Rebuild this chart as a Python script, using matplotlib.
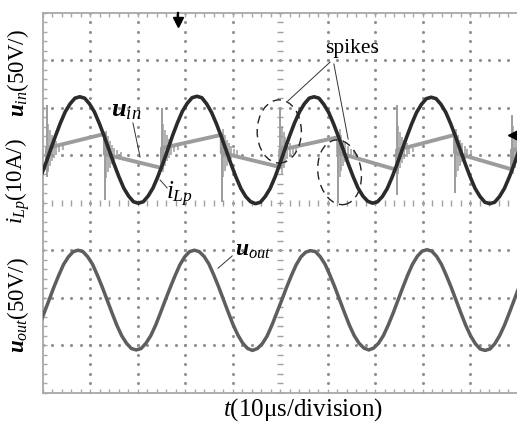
import numpy as np
import matplotlib
matplotlib.use("Agg")
from matplotlib import pyplot as plt
from matplotlib.patches import Ellipse

plt.rcParams['font.family'] = ['Liberation Serif', 'DejaVu Serif']
plt.rcParams['mathtext.fontset'] = 'custom'
plt.rcParams['mathtext.rm'] = 'Liberation Serif'
plt.rcParams['mathtext.it'] = 'Liberation Serif:italic'
plt.rcParams['mathtext.bf'] = 'Liberation Serif:bold'
plt.rcParams['mathtext.bfit'] = 'Liberation Serif:italic:bold'

# everything in screen divisions: 10 across, 8 high, centre line = 0

# u_in, read every 1/24 of its period from the left edge
uin_t0, uin_dt = -0.144, 0.10275
u_in = [0.31, 0.55, 0.82,
        1.11, 1.40, 1.67, 1.91, 2.08, 2.20, 2.23, 2.20, 2.08, 1.91, 1.67, 1.40,
        1.11, 0.82, 0.55, 0.31, 0.14, 0.02, -0.01, 0.02, 0.14, 0.31, 0.55, 0.82,
        1.11, 1.41, 1.68, 1.92, 2.09, 2.21, 2.24, 2.21, 2.08, 1.90, 1.66, 1.39,
        1.10, 0.81, 0.54, 0.30, 0.13, 0.02, -0.02, 0.01, 0.13, 0.30, 0.54, 0.82,
        1.12, 1.41, 1.68, 1.91, 2.08, 2.20, 2.23, 2.20, 2.07, 1.90, 1.66, 1.39,
        1.11, 0.82, 0.55, 0.31, 0.14, 0.03, -0.01, 0.02, 0.13, 0.30, 0.54, 0.81,
        1.10, 1.39, 1.66, 1.90, 2.07, 2.19, 2.22, 2.19, 2.07, 1.90, 1.66, 1.39,
        1.10, 0.81, 0.54, 0.30, 0.13, 0.01, -0.02, 0.01, 0.13, 0.30, 0.54, 0.81,
        1.11]

# u_out, same way
uout_t0, uout_dt = -0.071, 0.102
u_out = [-2.58, -2.32,
         -2.05, -1.78, -1.53, -1.30, -1.14, -1.03, -1.00, -1.03, -1.14, -1.30, -1.53, -1.78,
         -2.05, -2.32, -2.58, -2.80, -2.96, -3.07, -3.10, -3.07, -2.96, -2.80, -2.58, -2.32,
         -2.05, -1.79, -1.54, -1.31, -1.14, -1.03, -1.00, -1.03, -1.13, -1.29, -1.52, -1.77,
         -2.04, -2.31, -2.57, -2.79, -2.96, -3.07, -3.11, -3.07, -2.97, -2.81, -2.58, -2.32,
         -2.06, -1.79, -1.54, -1.31, -1.14, -1.04, -1.01, -1.03, -1.14, -1.30, -1.53, -1.78,
         -2.05, -2.32, -2.58, -2.80, -2.96, -3.06, -3.10, -3.06, -2.96, -2.80, -2.58, -2.33,
         -2.06, -1.79, -1.53, -1.30, -1.13, -1.02, -0.99, -1.02, -1.13, -1.30, -1.53, -1.78,
         -2.05, -2.32, -2.58, -2.80, -2.97, -3.08, -3.11, -3.08, -2.97, -2.80, -2.58, -2.32,
         -2.05, -1.78]

# i_Lp: switching spikes and the ramp between them
spike_t = [0.09, 1.31, 2.51, 3.77, 5.00, 6.22, 7.46, 8.68, 9.88]
spike_top = [2.05, 1.38, 1.99, 1.45, 2.01, 1.39, 2.06, 1.47, 1.85]
spike_bot = [0.55, 0.05, 0.75, 0.02, 0.75, 0.00, 0.16, 0.20, 0.64]
seg_start = [1.15, 1.02, 1.15, 1.05, 1.11, 1.05, 1.11, 1.05, 1.11]
seg_end = [1.45, 0.73, 1.43, 0.75, 1.38, 0.69, 1.43, 0.70, 1.14]
lead_in = [0.74, 0.72]
ring_dt = [0.03, 0.07, 0.11, 0.15, 0.20, 0.26, 0.33]
ring_amp = [0.50, 0.38, 0.28, 0.20, 0.14, 0.09, 0.05]

X_MAX = 9.985

fig = plt.figure(figsize=(5.17, 4.23), dpi=100)
ax = fig.add_axes([42.7 / 517, 30.3 / 423, (517 - 42.7) / 517, 380 / 423])
ax.set_xlim(0, X_MAX)
ax.set_ylim(-4, 4)

frame_col = '#a8a8a8'
for s in ['left', 'top', 'bottom']:
    ax.spines[s].set_color(frame_col)
    ax.spines[s].set_linewidth(1.3)
ax.spines['right'].set_visible(False)

ax.set_xticks(np.arange(0, 10, 1))
ax.set_xticks(np.arange(0, 10, 0.2), minor=True)
ax.set_yticks(np.arange(-4, 5, 1))
ax.set_yticks(np.arange(-4, 4.01, 0.2), minor=True)
ax.tick_params(which='both', direction='in', top=True, right=False,
               labelbottom=False, labelleft=False, color=frame_col, width=1)
ax.tick_params(which='major', length=3)
ax.tick_params(which='minor', length=3)

# dotted graticule
dots = np.arange(0, 10.01, 0.2)
for gx in [1, 2, 3, 4, 6, 7, 8, 9]:
    ax.plot(np.full(41, gx), np.arange(-4, 4.01, 0.2), ls='none', marker='.',
            ms=2.4, color='#909090', zorder=1)
for gy in [-3, -2, -1, 1, 2, 3]:
    ax.plot(dots, np.full(len(dots), gy), ls='none', marker='.',
            ms=2.4, color='#909090', zorder=1)
# centre axes with small ticks
ax.plot(dots, np.zeros(len(dots)), ls='none', marker='|', ms=5,
        mew=1, color='#a0a0a0', zorder=1)
ax.plot(np.full(41, 5.0), np.arange(-4, 4.01, 0.2), ls='none', marker='_',
        ms=4, mew=1, color='#a0a0a0', zorder=1)

# i_Lp trace
ilp_x = [0.0, spike_t[0]]
ilp_y = list(lead_in)
for j, t in enumerate(spike_t):
    t_next = spike_t[j + 1] if j + 1 < len(spike_t) else 10.1
    ilp_x += [t, t_next]
    ilp_y += [seg_start[j], seg_end[j]]
ilp_col = '#9c9c9c'
ax.plot(ilp_x, ilp_y, color=ilp_col, lw=2.8, zorder=2)
ax.vlines(spike_t, spike_bot, spike_top, color=ilp_col, lw=1.4, zorder=2)
for j, t in enumerate(spike_t):
    for dt, a in zip(ring_dt, ring_amp):
        ax.vlines(t + dt, seg_start[j] - a, seg_start[j] + a,
                  color=ilp_col, lw=1.1, zorder=2)

# u_in and u_out traces
t_in = uin_t0 + uin_dt * np.arange(len(u_in))
t_out = uout_t0 + uout_dt * np.arange(len(u_out))
ax.plot(t_in, u_in, color='#2b2b2b', lw=2.6, zorder=3)
ax.plot(t_out, u_out, color='#5e5e5e', lw=2.5, zorder=3)

# scope markers
ax.plot([2.85, 2.85], [4.0, 3.86], color='black', lw=1.6, clip_on=False, zorder=4)
ax.plot(2.85, 3.8, marker='v', ms=7, color='black', clip_on=False, zorder=4)
ax.plot(9.9, 1.42, marker='<', ms=7, color='black', clip_on=False, zorder=4)

# annotations
ax.text(1.44, 1.82, r'$\mathbfit{u}_{\mathit{in}}$', fontsize=19, zorder=5)
ax.plot([1.90, 2.05], [1.68, 0.96], color='#333333', lw=0.7, zorder=5)
ax.text(2.60, 0.06, r'$\mathit{i}_{\mathit{Lp}}$', fontsize=18, zorder=5)
ax.plot([2.47, 2.62], [0.48, 0.31], color='#333333', lw=0.7, zorder=5)
ax.text(4.05, -1.12, r'$\mathbfit{u}_{\mathit{out}}$', fontsize=17, zorder=5)
ax.plot([3.99, 3.69], [-1.12, -1.38], color='#333333', lw=0.7, zorder=5)

ax.text(6.52, 3.25, 'spikes', fontsize=15.5, ha='center', va='center', zorder=5)
ax.plot([6.05, 5.16], [2.96, 2.14], color='#333333', lw=0.7, zorder=5)
ax.plot([6.13, 6.43], [2.92, 1.34], color='#333333', lw=0.7, zorder=5)
ax.add_patch(Ellipse((4.98, 1.50), 0.93, 1.33, fill=False, ls=(0, (6, 4)),
                     lw=1.0, color='#222222', zorder=5))
ax.add_patch(Ellipse((6.25, 0.64), 0.91, 1.37, angle=8, fill=False, ls=(0, (6, 4)),
                     lw=1.0, color='#222222', zorder=5))

# axis titles
fig.text(0.034, 1 - 73.5 / 423, r'$\mathbfit{u}_{\mathit{in}}$(50V/)', rotation=90,
         ha='center', va='center', fontsize=16.5)
fig.text(0.034, 1 - 181 / 423, r'$\mathit{i}_{\mathit{Lp}}$(10A/)', rotation=90,
         ha='center', va='center', fontsize=16.5)
fig.text(0.034, 1 - 305 / 423, r'$\mathbfit{u}_{\mathit{out}}$(50V/)', rotation=90,
         ha='center', va='center', fontsize=16.5)
fig.text(303 / 517, 1 - 410 / 423, r'$\mathit{t}$(10μs/division)',
         ha='center', va='center', fontsize=18)

fig.savefig('out.png', dpi=100)
